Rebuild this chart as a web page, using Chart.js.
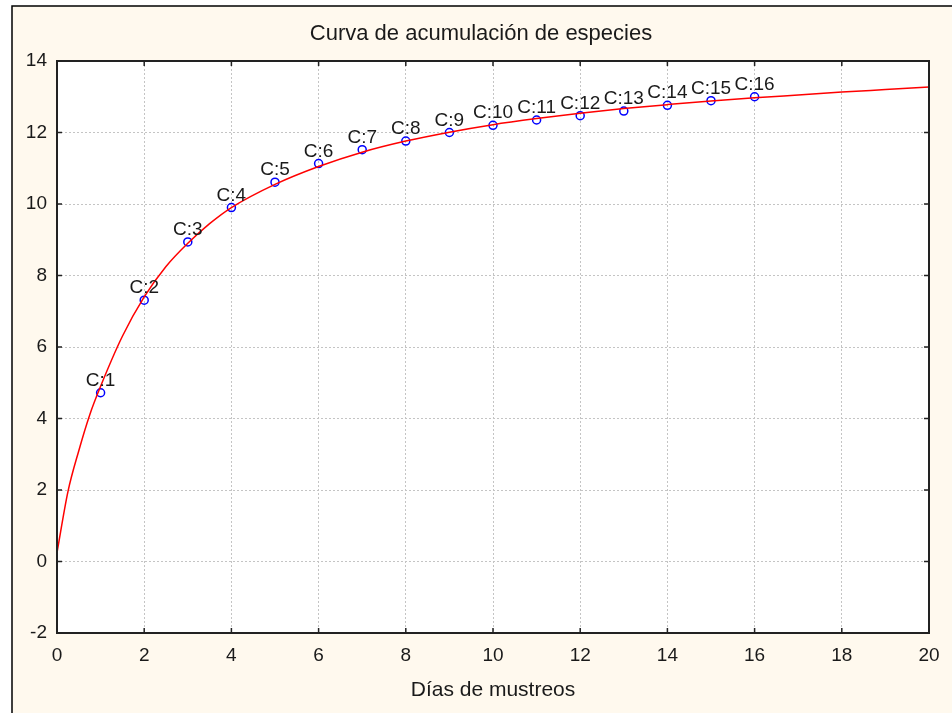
<!DOCTYPE html>
<html>
<head>
<meta charset="utf-8">
<script src="https://cdn.jsdelivr.net/npm/chart.js@4"></script>
<style>
  html, body { margin: 0; padding: 0; background: #ffffff; }
  #wrap { width: 952px; height: 713px; position: relative; }
</style>
</head>
<body>
<div id="wrap"><canvas id="chart" width="952" height="713"></canvas></div>
<script>
// Observed values (días de muestreo vs especies acumuladas)
const dias = [1, 2, 3, 4, 5, 6, 7, 8, 9, 10, 11, 12, 13, 14, 15, 16];
const especies = [4.72, 7.31, 8.94, 9.9, 10.61, 11.13, 11.52, 11.76, 12.0, 12.2, 12.35, 12.47, 12.6, 12.76, 12.89, 13.0];
const etiquetas = ['C:1', 'C:2', 'C:3', 'C:4', 'C:5', 'C:6', 'C:7', 'C:8', 'C:9', 'C:10', 'C:11', 'C:12', 'C:13', 'C:14', 'C:15', 'C:16'];

// Fitted curve
const curvaX = [0, 0.25, 0.5, 0.75, 1, 1.5, 2, 2.5, 3, 3.5, 4, 5, 6, 7, 8, 9, 10, 11, 12, 13, 14, 15, 16, 17, 18, 19, 20];
const curvaY = [0.25, 1.95, 3.1, 4.1, 4.9, 6.3, 7.4, 8.25, 8.9, 9.45, 9.9, 10.55, 11.05, 11.45, 11.76, 12.01, 12.22, 12.39, 12.54, 12.67, 12.78, 12.88, 12.97, 13.05, 13.13, 13.2, 13.27];

const xTicks = [0, 2, 4, 6, 8, 10, 12, 14, 16, 18, 20];
const yTicks = [-2, 0, 2, 4, 6, 8, 10, 12, 14];

const titulo = 'Curva de acumulación de especies';

const FONT = "'Liberation Sans', Arial, sans-serif";

const frame = {
    id: 'frame',
    beforeDraw(chart) {
        const ctx = chart.ctx;
        const a = chart.chartArea;
        ctx.save();
        ctx.fillStyle = '#ffffff';
        ctx.fillRect(0, 0, chart.width, chart.height);
        ctx.fillStyle = '#fff9ee';
        ctx.fillRect(12, 6, chart.width - 12, chart.height - 6);
        ctx.strokeStyle = '#000000';
        ctx.lineWidth = 1.5;
        ctx.beginPath();
        ctx.moveTo(12, chart.height);
        ctx.lineTo(12, 6);
        ctx.lineTo(chart.width, 6);
        ctx.stroke();
        ctx.fillStyle = '#ffffff';
        ctx.fillRect(a.left, a.top, a.right - a.left, a.bottom - a.top);

        // title
        ctx.fillStyle = '#1a1a1a';
        ctx.font = '22px ' + FONT;
        ctx.textAlign = 'center';
        ctx.textBaseline = 'middle';
        ctx.fillText(titulo, 481, 34);
        ctx.restore();
    },
    afterDraw(chart) {
        const ctx = chart.ctx;
        const a = chart.chartArea;
        const xs = chart.scales.x, ys = chart.scales.y;
        ctx.save();
        ctx.strokeStyle = '#222222';
        ctx.lineWidth = 2;
        ctx.strokeRect(a.left, a.top, a.right - a.left, a.bottom - a.top);
        ctx.lineWidth = 1.5;
        ctx.beginPath();
        xTicks.forEach(v => {
            const px = xs.getPixelForValue(v);
            ctx.moveTo(px, a.bottom); ctx.lineTo(px, a.bottom - 5);
            ctx.moveTo(px, a.top); ctx.lineTo(px, a.top + 5);
        });
        yTicks.forEach(v => {
            const py = ys.getPixelForValue(v);
            ctx.moveTo(a.left, py); ctx.lineTo(a.left + 5, py);
            ctx.moveTo(a.right, py); ctx.lineTo(a.right - 5, py);
        });
        ctx.stroke();

        // point labels
        const meta = chart.getDatasetMeta(1);
        ctx.fillStyle = '#1a1a1a';
        ctx.font = '19px ' + FONT;
        ctx.textAlign = 'center';
        ctx.textBaseline = 'alphabetic';
        meta.data.forEach((pt, i) => {
            ctx.fillText(etiquetas[i], pt.x, pt.y - 7);
        });
        ctx.restore();
    }
};

new Chart(document.getElementById('chart'), {
    type: 'scatter',
    data: {
        datasets: [{
            type: 'line',
            data: curvaX.map((x, i) => ({ x: x, y: curvaY[i] })),
            borderColor: '#ff0000',
            borderWidth: 1.5,
            pointRadius: 0,
            fill: false,
            cubicInterpolationMode: 'monotone'
        }, {
            data: dias.map((x, i) => ({ x: x, y: especies[i] })),
            borderColor: '#0000ff',
            backgroundColor: 'rgba(0,0,0,0)',
            borderWidth: 1.5,
            pointRadius: 4,
            pointHoverRadius: 4
        }]
    },
    options: {
        responsive: false,
        animation: false,
        events: [],
        layout: { padding: { left: 0, right: 23, top: 61, bottom: 0 } },
        plugins: {
            legend: { display: false },
            tooltip: { enabled: false },
            title: { display: false }
        },
        scales: {
            x: {
                type: 'linear',
                min: 0, max: 20,
                afterFit: s => { s.height = 80; },
                afterBuildTicks: s => { s.ticks = xTicks.map(v => ({ value: v })); },
                grid: { color: '#c4c4c4', drawTicks: false },
                border: { display: false, dash: [2, 2] },
                ticks: { color: '#1a1a1a', padding: 11, maxRotation: 0, font: { family: FONT, size: 19 } },
                title: {
                    display: true,
                    text: 'Días de mustreos',
                    color: '#1a1a1a',
                    font: { family: FONT, size: 21 },
                    padding: { top: 0, bottom: 10 }
                }
            },
            y: {
                type: 'linear',
                min: -2, max: 14,
                afterFit: s => { s.width = 57; },
                afterBuildTicks: s => { s.ticks = yTicks.map(v => ({ value: v })); },
                grid: { color: '#c4c4c4', drawTicks: false },
                border: { display: false, dash: [2, 2] },
                ticks: { color: '#1a1a1a', padding: 10, font: { family: FONT, size: 19 } }
            }
        }
    },
    plugins: [frame]
});
</script>
</body>
</html>
